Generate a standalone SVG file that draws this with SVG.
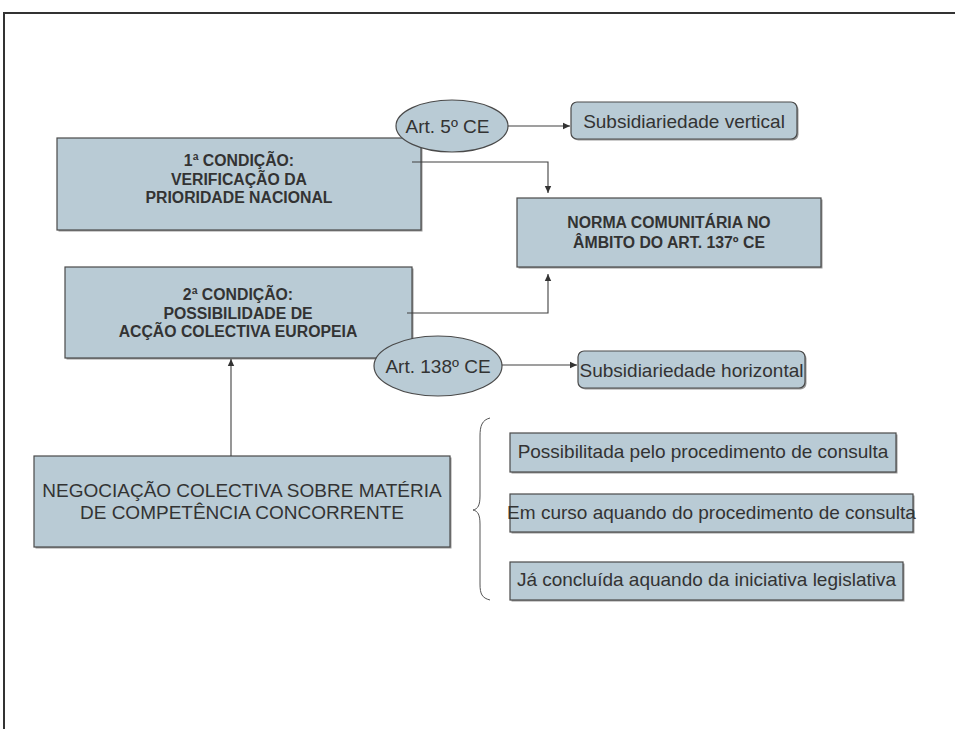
<svg xmlns="http://www.w3.org/2000/svg" width="955" height="729" viewBox="0 0 955 729">
  <style>
    .box { fill: #b9cbd5; stroke: #4a4a4a; stroke-width: 1.2; }
    .shadow { fill: #9a9a9a; }
    .ell { fill: #b9cbd5; stroke: #4a4a4a; stroke-width: 1.2; }
    .bold { font-family: "Liberation Sans", Arial, sans-serif; font-weight: bold; font-size: 15.8px; fill: #333333; text-anchor: middle; }
    .reg { font-family: "Liberation Sans", Arial, sans-serif; font-size: 19px; fill: #333333; text-anchor: middle; }
    .conn { fill: none; stroke: #404040; stroke-width: 1.1; }
  </style>
  <defs>
    <marker id="arrow" markerUnits="userSpaceOnUse" markerWidth="8" markerHeight="8" refX="7" refY="4" orient="auto">
      <path d="M0,0.8 L7,4 L0,7.2 Z" fill="#333333"/>
    </marker>
  </defs>

  <rect width="955" height="729" fill="#ffffff"/>
  <!-- page frame -->
  <path d="M4,729 V13 H955" fill="none" stroke="#333333" stroke-width="2"/>

  <g id="cond1">
    <rect class="shadow" x="58.5" y="139.5" width="364" height="92"/>
    <rect class="box" x="57" y="138" width="364" height="92"/>
    <text class="bold" x="239" y="166">1ª CONDIÇÃO:</text>
    <text class="bold" x="239" y="184.5">VERIFICAÇÃO DA</text>
    <text class="bold" x="239" y="203">PRIORIDADE NACIONAL</text>
  </g>

  <g id="art5">
    <ellipse class="ell" cx="452" cy="126" rx="56" ry="26"/>
    <text class="reg" x="447.5" y="133" font-size="18.5">Art. 5º CE</text>
  </g>

  <g id="subs-vertical">
    <rect class="shadow" x="572.5" y="103.5" width="226" height="37" rx="6"/>
    <rect class="box" x="571" y="102" width="226" height="37" rx="6"/>
    <text class="reg" x="684" y="127.5">Subsidiariedade vertical</text>
  </g>

  <g id="norma">
    <rect class="shadow" x="518.5" y="199.5" width="304" height="69"/>
    <rect class="box" x="517" y="198" width="304" height="69"/>
    <text class="bold" x="669" y="228">NORMA COMUNITÁRIA NO</text>
    <text class="bold" x="669" y="248">ÂMBITO DO ART. 137º CE</text>
  </g>

  <g id="cond2">
    <rect class="shadow" x="66.5" y="268.5" width="347" height="91"/>
    <rect class="box" x="65" y="267" width="347" height="91"/>
    <text class="bold" x="238" y="300">2ª CONDIÇÃO:</text>
    <text class="bold" x="238" y="318.5">POSSIBILIDADE DE</text>
    <text class="bold" x="238" y="337">ACÇÃO COLECTIVA EUROPEIA</text>
  </g>

  <g id="art138">
    <ellipse class="ell" cx="438" cy="366" rx="64" ry="30"/>
    <text class="reg" x="438" y="373" font-size="18.5">Art. 138º CE</text>
  </g>

  <g id="subs-horizontal">
    <rect class="shadow" x="579.5" y="352.5" width="227" height="37" rx="6"/>
    <rect class="box" x="578" y="351" width="227" height="37" rx="6"/>
    <text class="reg" x="691.5" y="377">Subsidiariedade horizontal</text>
  </g>

  <g id="negociacao">
    <rect class="shadow" x="35.5" y="457.5" width="416" height="91"/>
    <rect class="box" x="34" y="456" width="416" height="91"/>
    <text class="reg" x="242" y="497" font-size="18.5">NEGOCIAÇÃO COLECTIVA SOBRE MATÉRIA</text>
    <text class="reg" x="242" y="518.5" font-size="18.5">DE COMPETÊNCIA CONCORRENTE</text>
  </g>

  <g id="brace">
    <path d="M490,418 C482,420 480,426 480,436 L480,496 C480,505 478,509 473,510 C478,511 480,515 480,524 L480,584 C480,594 482,598 490,600" fill="none" stroke="#555555" stroke-width="1"/>
  </g>

  <g id="consulta-possibilitada">
    <rect class="shadow" x="511.5" y="434.5" width="386" height="39"/>
    <rect class="box" x="510" y="433" width="386" height="39"/>
    <text class="reg" x="703" y="458">Possibilitada pelo procedimento de consulta</text>
  </g>

  <g id="consulta-em-curso">
    <rect class="shadow" x="511.5" y="495.5" width="403" height="38"/>
    <rect class="box" x="510" y="494" width="403" height="38"/>
    <text class="reg" x="711.5" y="518.5">Em curso aquando do procedimento de consulta</text>
  </g>

  <g id="ja-concluida">
    <rect class="shadow" x="511.5" y="563.5" width="393" height="38"/>
    <rect class="box" x="510" y="562" width="393" height="38"/>
    <text class="reg" x="706.5" y="586">Já concluída aquando da iniciativa legislativa</text>
  </g>

  <g id="connectors">
    <path class="conn" d="M508,126 H570" marker-end="url(#arrow)"/>
    <path class="conn" d="M412,162 H548 V193" marker-end="url(#arrow)"/>
    <path class="conn" d="M407,313 H548 V274" marker-end="url(#arrow)"/>
    <path class="conn" d="M231,456 V359" marker-end="url(#arrow)"/>
    <path class="conn" d="M502,365 H577" marker-end="url(#arrow)"/>
  </g>
</svg>
